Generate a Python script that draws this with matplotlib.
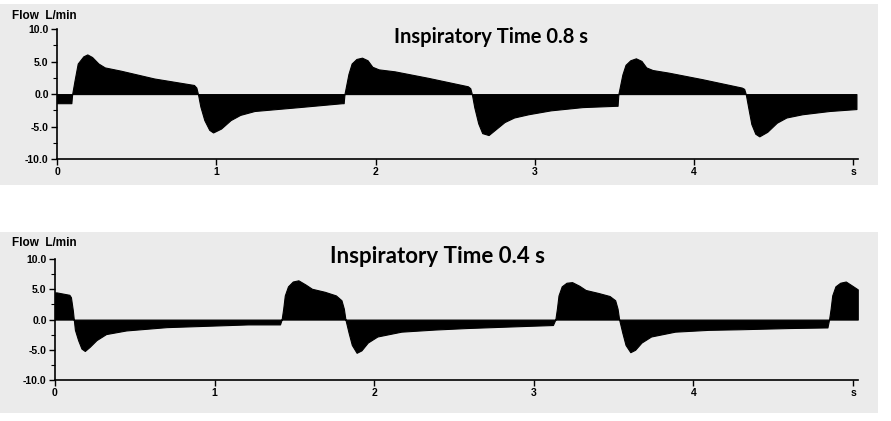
import matplotlib
matplotlib.use("Agg")
import matplotlib.pyplot as plt
from matplotlib.patches import Rectangle
from matplotlib.ticker import MultipleLocator

# Inspiratory time 0.8 s  (time [s], flow [L/min])
t_08 = [0.0, 0.09, 0.095, 0.11, 0.13, 0.165, 0.19, 0.22, 0.26, 0.30, 0.40, 0.61, 0.86,
        0.875, 0.885, 0.90, 0.925, 0.956, 0.98, 1.03, 1.09, 1.15, 1.24, 1.52, 1.79,
        1.80, 1.805, 1.83, 1.85, 1.88, 1.915, 1.95, 1.98, 2.02, 2.12, 2.33, 2.58,
        2.595, 2.605, 2.62, 2.645, 2.67, 2.71, 2.75, 2.81, 2.87, 2.96, 3.10, 3.30, 3.51,
        3.52, 3.525, 3.55, 3.57, 3.60, 3.635, 3.67, 3.70, 3.74, 3.84, 4.05, 4.30,
        4.315, 4.325, 4.34, 4.36, 4.385, 4.41, 4.46, 4.52, 4.58, 4.68, 4.85, 5.02, 5.02]
f_08 = [-1.4, -1.4, 0.0, 2.1, 4.7, 5.8, 6.1, 5.7, 4.7, 4.1, 3.6, 2.4, 1.4,
        1.0, 0.0, -1.9, -4.0, -5.5, -5.9, -5.3, -4.0, -3.2, -2.6, -2.0, -1.4,
        -1.4, 0.0, 3.1, 4.7, 5.4, 5.6, 5.2, 4.2, 3.8, 3.5, 2.5, 1.2,
        0.9, 0.0, -2.0, -4.5, -6.0, -6.3, -5.5, -4.3, -3.6, -3.1, -2.5, -2.0, -1.8,
        -1.8, 0.0, 3.0, 4.5, 5.2, 5.5, 5.1, 4.1, 3.7, 3.3, 2.3, 1.0,
        0.8, 0.0, -2.0, -4.6, -6.1, -6.5, -5.8, -4.4, -3.6, -3.1, -2.6, -2.3, 0.0]

# Inspiratory time 0.4 s
t_04 = [0.0, 0.01, 0.09, 0.10, 0.112, 0.118, 0.125, 0.145, 0.166, 0.187, 0.218, 0.26,
        0.32, 0.446, 0.70, 1.21, 1.41,
        1.42, 1.43, 1.44, 1.46, 1.49, 1.525, 1.57, 1.61, 1.69, 1.76, 1.795, 1.81, 1.82,
        1.84, 1.86, 1.89, 1.92, 1.96, 2.02, 2.17, 2.38, 2.58, 2.90, 3.12,
        3.135, 3.145, 3.155, 3.175, 3.205, 3.24, 3.285, 3.325, 3.405, 3.475, 3.51, 3.525,
        3.535, 3.555, 3.575, 3.605, 3.635, 3.675, 3.735, 3.885, 4.095, 4.295, 4.60, 4.84,
        4.85, 4.86, 4.87, 4.89, 4.92, 4.955, 4.99, 5.03, 5.03]
f_04 = [4.5, 4.5, 4.1, 3.7, 1.5, 0.0, -1.7, -3.4, -4.8, -5.2, -4.5, -3.4,
        -2.4, -1.8, -1.25, -0.8, -0.8,
        0.0, 1.8, 4.0, 5.5, 6.3, 6.5, 5.8, 5.1, 4.6, 4.0, 3.2, 1.8, 0.0,
        -2.2, -4.2, -5.5, -5.1, -3.8, -2.8, -2.0, -1.65, -1.4, -1.1, -0.9,
        0.0, 1.8, 4.0, 5.5, 6.1, 6.2, 5.6, 4.9, 4.4, 3.9, 3.2, 1.8,
        0.0, -2.2, -4.2, -5.4, -5.0, -3.8, -2.8, -2.0, -1.7, -1.6, -1.4, -1.3,
        0.0, 1.8, 4.0, 5.5, 6.1, 6.3, 5.7, 5.0, 0.0]

y_ticks = [-10, -5, 0, 5, 10]
y_labels = ["-10.0", "-5.0", "0.0", "5.0", "10.0"]
x_ticks = [0, 1, 2, 3, 4, 5]
x_labels = ["0", "1", "2", "3", "4", "s"]

fig = plt.figure(figsize=(8.91, 4.21), dpi=100)
fig.patch.set_facecolor("white")
# stippled scan background
fig.patches.append(Rectangle((0.0, 0.56), 0.985, 0.43, transform=fig.transFigure,
                             facecolor="#ebebeb", edgecolor="none", zorder=-5))
fig.patches.append(Rectangle((0.0, 0.02), 0.985, 0.43, transform=fig.transFigure,
                             facecolor="#ebebeb", edgecolor="none", zorder=-5))


def draw_panel(rect, t, f, title, title_x, title_y, title_size, label_y):
    ax = fig.add_axes(rect, zorder=2)
    ax.set_facecolor("none")
    ax.fill_between(t, 0, f, color="black", linewidth=0.8, edgecolor="black")
    ax.set_xlim(0, 5.03)
    ax.set_ylim(-10, 10)
    for side in ("top", "right"):
        ax.spines[side].set_visible(False)
    ax.spines["left"].set_linewidth(1.2)
    ax.spines["bottom"].set_linewidth(1.2)
    ax.set_yticks(y_ticks)
    ax.set_yticklabels(y_labels, fontsize=7.5, fontweight="bold", family="Liberation Sans")
    ax.set_xticks(x_ticks)
    ax.set_xticklabels(x_labels, fontsize=7.5, fontweight="bold", family="Liberation Sans")
    ax.yaxis.set_minor_locator(MultipleLocator(2.5))
    ax.tick_params(axis="both", which="major", length=4, width=1, pad=2)
    ax.tick_params(axis="y", which="minor", length=3, width=0.8)
    fig.text(title_x, title_y, title, fontsize=title_size, fontweight="bold", family="Lato",
             ha="center", va="center", zorder=3)
    fig.text(0.014, label_y, "Flow  L/min", fontsize=8.5, fontweight="bold",
             family="Liberation Sans", va="center", zorder=3)
    return ax


draw_panel([0.064, 0.622, 0.899, 0.309], t_08, f_08,
           "Inspiratory Time 0.8 s", 0.551, 0.912, 14.5, 0.962)
draw_panel([0.0617, 0.0974, 0.901, 0.287], t_04, f_04,
           "Inspiratory Time 0.4 s", 0.491, 0.390, 16, 0.422)

fig.savefig("out.png", dpi=100, facecolor=fig.get_facecolor())
